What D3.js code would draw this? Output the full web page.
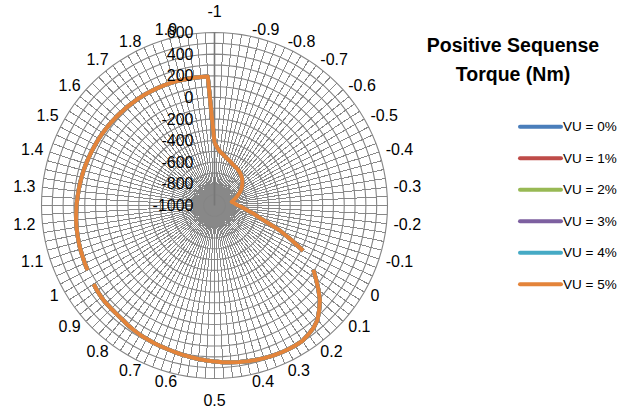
<!DOCTYPE html>
<html>
<head>
<meta charset="utf-8">
<script src="https://cdn.jsdelivr.net/npm/d3@7"></script>
<style>
  body { margin: 0; background: #fff; }
  text { font-family: "Liberation Sans", Arial, sans-serif; }
</style>
</head>
<body>
<div id="chart"></div>
<script>
var width = 619;
var height = 411;
var cx = 214.5;
var cy = 205.5;
var outerR = 173;

// slip categories -1 ... 1.975 (step 0.025), one label every 0.1
var categories = d3.range(120).map(i => +(-1 + i * 0.025).toFixed(3));
var catLabels = ["-1", "-0.9", "-0.8", "-0.7", "-0.6", "-0.5", "-0.4", "-0.3", "-0.2", "-0.1",
                 "0", "0.1", "0.2", "0.3", "0.4", "0.5", "0.6", "0.7", "0.8", "0.9",
                 "1", "1.1", "1.2", "1.3", "1.4", "1.5", "1.6", "1.7", "1.8", "1.9"];
var valueTicks = [-1000, -800, -600, -400, -200, 0, 200, 400, 600];
var gridTicks = [-900, -800, -700, -600, -500, -400, -300, -200, -100, 0, 100, 200, 300, 400, 500, 600];

// torque (null = gap in the line at s = 0 and s = 1)
var torque = [
  -417, -468, -500, -518, -535, -551, -562, -573, -584, -591,
  -597, -603, -611, -620, -629, -641, -655, -669, -684, -701,
  -718, -740, -761, -782, -802, -821, -838, -824, -812, -801,
  -781, -750, -719, -681, -628, -574, -483, -350, -227, -80,
  null, 90, 161, 237, 312, 369, 424, 456, 476, 493,
  495, 495, 493, 489, 484, 479, 472, 466, 458, 451,
  443, 435, 428, 419, 412, 405, 398, 394, 389, 384,
  380, 373, 366, 356, 352, 350, 350, 347, 341, 333,
  null, 318, 313, 308, 305, 301, 296, 292, 287, 281,
  276, 270, 265, 261, 257, 253, 249, 245, 241, 238,
  235, 232, 229, 226, 223, 220, 218, 216, 214, 212,
  210, 208, 206, 204, 202, 200, 198, 197, 196, 195
];

var seriesNames = ["VU = 0%", "VU = 1%", "VU = 2%", "VU = 3%", "VU = 4%", "VU = 5%"];
var seriesColors = ["#4a7ebb", "#be4b48", "#98b954", "#7d60a0", "#46aac5", "#e4843a"];
// all six unbalance cases lie on the same curve
var seriesValues = [torque, torque, torque, torque, torque, torque];

var svg = d3.select("#chart")
            .append("svg")
            .attr("width", width)
            .attr("height", height);

var rScale = d3.scaleLinear().domain([-1000, 600]).range([0, outerR]);
var aScale = d3.scaleLinear().domain([0, categories.length]).range([0, 2 * Math.PI]);

var g = svg.append("g").attr("transform", "translate(" + cx + "," + cy + ")");

// spokes
g.selectAll(".spoke")
    .data(categories)
    .enter()
    .append("line")
    .attr("x1", 0)
    .attr("y1", 0)
    .attr("x2", (d, i) => outerR * Math.sin(aScale(i)))
    .attr("y2", (d, i) => -outerR * Math.cos(aScale(i)))
    .attr("stroke", "#888")
    .attr("stroke-width", 1)
    .attr("shape-rendering", "crispEdges");

// rings (polygons through every spoke)
var ringLine = d3.lineRadial()
                 .angle((d, i) => aScale(i))
                 .curve(d3.curveLinearClosed);
g.selectAll(".ring")
    .data(gridTicks)
    .enter()
    .append("path")
    .attr("d", v => ringLine.radius(rScale(v))(categories))
    .attr("fill", "none")
    .attr("stroke", "#858585")
    .attr("stroke-width", 1.1);

// value axis on first spoke
g.append("line")
    .attr("x1", 0).attr("y1", 0)
    .attr("x2", 0).attr("y2", -outerR)
    .attr("stroke", "#777")
    .attr("stroke-width", 1.6);

// series
var lineGen = d3.lineRadial()
                .angle(d => aScale(d.i))
                .radius(d => rScale(d.v))
                .defined(d => d.v != null);

seriesValues.forEach(function(vals, s) {
    var pts = vals.map((v, i) => ({ i: i, v: v }));
    pts.push({ i: vals.length, v: vals[0] });
    g.append("path")
        .datum(pts)
        .attr("d", lineGen)
        .attr("fill", "none")
        .attr("stroke", seriesColors[s])
        .attr("stroke-width", 4)
        .attr("stroke-linejoin", "round");
});

// value labels
g.selectAll(".vlab")
    .data(valueTicks)
    .enter()
    .append("text")
    .text(d => d)
    .attr("x", -21)
    .attr("y", d => -rScale(d))
    .attr("dy", "0.35em")
    .attr("text-anchor", "end")
    .style("font-size", "16px")
    .attr("fill", "#000");

// category labels
var labR = 180;
g.selectAll(".clab")
    .data(catLabels)
    .enter()
    .append("text")
    .text(d => d)
    .each(function(d, k) {
        var a = aScale(k * 4);
        var sx = Math.sin(a), cy2 = Math.cos(a);
        var el = d3.select(this);
        el.attr("x", labR * sx).attr("y", -labR * cy2);
        if (Math.abs(sx) < 0.01) {
            el.attr("text-anchor", "middle")
              .attr("dy", cy2 > 0 ? "-0.55em" : "1.25em");
        } else {
            el.attr("text-anchor", sx > 0 ? "start" : "end")
              .attr("dy", "0.35em");
        }
    })
    .style("font-size", "16px")
    .attr("fill", "#000");

// title
svg.append("text")
    .attr("x", 513).attr("y", 52)
    .attr("text-anchor", "middle")
    .style("font-size", "19.5px")
    .style("font-weight", "bold")
    .text("Positive Sequense");
svg.append("text")
    .attr("x", 513).attr("y", 81)
    .attr("text-anchor", "middle")
    .style("font-size", "19.5px")
    .style("font-weight", "bold")
    .text("Torque (Nm)");

// legend
var legend = svg.selectAll(".leg")
    .data(seriesNames)
    .enter()
    .append("g")
    .attr("transform", (d, i) => "translate(520," + (126.7 + i * 31.5) + ")");
legend.append("line")
    .attr("x1", 0).attr("x2", 41)
    .attr("stroke", (d, i) => seriesColors[i])
    .attr("stroke-width", 4)
    .attr("stroke-linecap", "round");
legend.append("text")
    .attr("x", 43)
    .attr("dy", "0.35em")
    .style("font-size", "13.5px")
    .text(d => d);
</script>
</body>
</html>
